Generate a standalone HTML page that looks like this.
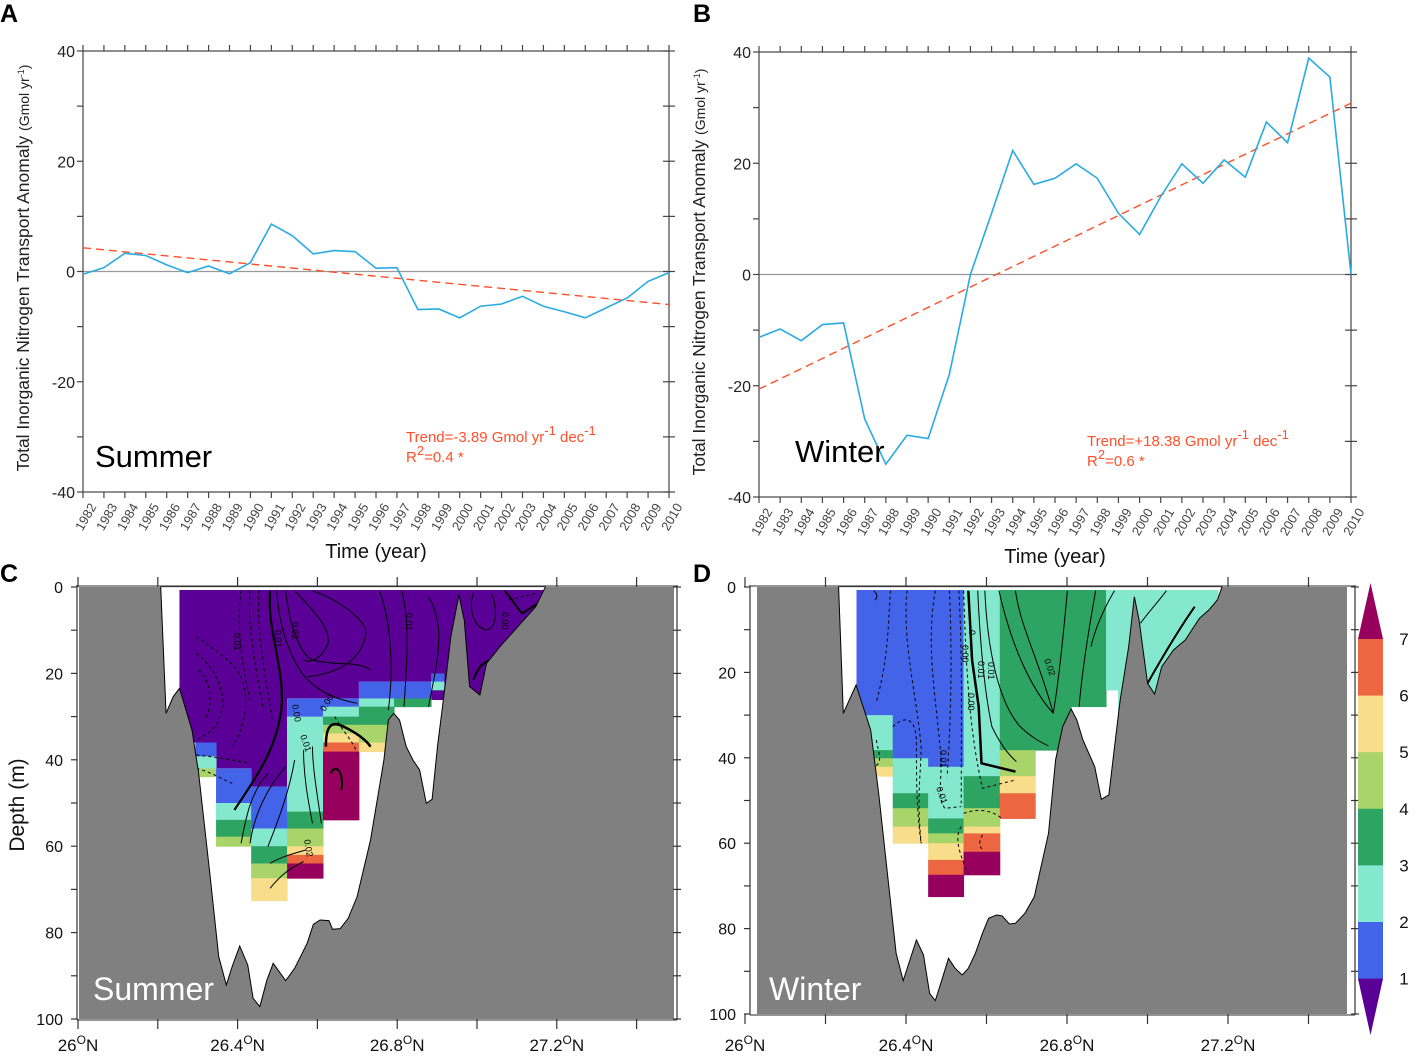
<!DOCTYPE html>
<html><head><meta charset="utf-8"><style>
html,body{margin:0;padding:0;background:#fff;}
svg{display:block;font-family:"Liberation Sans","DejaVu Sans",sans-serif;}
</style></head><body>
<svg id="fig" width="1424" height="1058" viewBox="0 0 1424 1058" xmlns="http://www.w3.org/2000/svg"></svg>
<script>
const years=[1982,1983,1984,1985,1986,1987,1988,1989,1990,1991,1992,1993,1994,1995,1996,1997,1998,1999,2000,2001,2002,2003,2004,2005,2006,2007,2008,2009,2010];
const summerValues=[-0.5,0.7,3.3,2.9,1.2,-0.2,1.0,-0.4,1.6,8.6,6.5,3.2,3.8,3.6,0.6,0.7,-6.9,-6.8,-8.4,-6.3,-5.9,-4.5,-6.3,-7.3,-8.4,-6.6,-4.8,-1.8,-0.2];
const winterValues=[-11.3,-9.8,-11.9,-9.0,-8.7,-26,-34.1,-28.9,-29.5,-18,0,11,22.3,16.2,17.3,19.9,17.3,11,7.2,14,19.9,16.4,20.6,17.5,27.4,23.7,38.9,35.5,0];
const summerTrend=[4.3,-6.0];
const winterTrend=[-20.6,30.8];
const yTicks=[40,20,0,-20,-40];
const depthTicks=[0,20,40,60,80,100];
const latTicks=[26.0,26.4,26.8,27.2];
const cbLevels=[7,6,5,4,3,2,1];
// heatmap cells: [lat0, lat1, depth0, depth1, level]
const cellsC=[
[26.294,26.346,36,39.2,1],[26.294,26.346,39.2,42,2],[26.294,26.346,42,43.9,4],
[26.346,26.434,42,50,1],[26.346,26.434,50,53.9,2],[26.346,26.434,53.9,57.8,3],[26.346,26.434,57.8,60,4],
[26.434,26.524,46.2,55.9,1],[26.434,26.524,55.9,60,2],[26.434,26.524,60,64,3],[26.434,26.524,64,67.4,4],[26.434,26.524,67.4,72.6,5],
[26.524,26.614,25.8,30,1],[26.524,26.614,30,52,2],[26.524,26.614,52,55.9,3],[26.524,26.614,55.9,60,4],[26.524,26.614,60,62,5],[26.524,26.614,62,64,6],[26.524,26.614,64,67.4,7],
[26.614,26.704,25.8,27.7,1],[26.614,26.704,27.7,30,2],[26.614,26.704,30,31.9,3],[26.614,26.704,31.9,33.9,4],[26.614,26.704,33.9,36,5],[26.614,26.704,36,38.1,6],[26.614,26.704,38.1,53.9,7],
[26.704,26.792,21.9,25.8,1],[26.704,26.792,25.8,27.7,2],[26.704,26.792,27.7,31.9,3],[26.704,26.792,31.9,36,4],[26.704,26.792,36,38.1,5],
[26.792,26.885,21.9,25.8,1],[26.792,26.885,25.8,27.7,3],
[26.885,26.917,20,21.9,1],[26.885,26.917,21.9,23.8,2]
];
const cellsD=[
[26.277,26.303,0.7,30,1],
[26.303,26.367,0.7,30,1],[26.303,26.367,30,38.2,2],[26.303,26.367,38.2,40.1,3],[26.303,26.367,40.1,42.1,4],[26.303,26.367,42.1,44.3,5],
[26.367,26.455,0.7,40.1,1],[26.367,26.455,40.1,48.3,2],[26.367,26.455,48.3,51.8,3],[26.367,26.455,51.8,56.1,4],[26.367,26.455,56.1,60,5],
[26.455,26.543,0.7,42.1,1],[26.455,26.543,42.1,54.2,2],[26.455,26.543,54.2,57.7,3],[26.455,26.543,57.7,60,4],[26.455,26.543,60,63.9,5],[26.455,26.543,63.9,67.4,6],[26.455,26.543,67.4,72.5,7],
[26.543,26.633,0.7,44.3,2],[26.543,26.633,44.3,51.8,3],[26.543,26.633,51.8,56.1,4],[26.543,26.633,56.1,57.7,5],[26.543,26.633,57.7,62,6],[26.543,26.633,62,67.4,7],
[26.633,26.721,0.7,38.2,3],[26.633,26.721,38.2,44.3,4],[26.633,26.721,44.3,48.3,5],[26.633,26.721,48.3,54.2,6],
[26.721,26.810,0.7,38.2,3],
[26.810,26.897,0.7,28,3],
[26.897,26.927,0.7,24.1,2],
[26.927,27.175,0.7,30,2]
];
const colors=["#5B0096","#4363E8","#84E8CF","#2EA463","#A8D46A","#F8DD8A","#EC6642","#98005E"];

const NS="http://www.w3.org/2000/svg";
const svg=document.getElementById('fig');
function mk(tag,attrs,parent,text){const e=document.createElementNS(NS,tag);for(const k in attrs)e.setAttribute(k,attrs[k]);if(text!==undefined)e.textContent=text;(parent||svg).appendChild(e);return e;}

// ---------- line panels ----------
function linePanel(cfg){
  const g=mk('g',{});
  
  
  const x=i=>cfg.x0+i*(cfg.x1-cfg.x0)/(years.length-1);
  const y=v=>cfg.yZero - v*(cfg.y1-cfg.y0)/80;
  const z=mk('line',{x1:cfg.x0,x2:cfg.x1,y1:y(0),y2:y(0),stroke:'#999','stroke-width':1.2},g);
  
  
  const f=mk('rect',{x:cfg.x0,y:cfg.y0,width:cfg.x1-cfg.x0,height:cfg.y1-cfg.y0,fill:'none',stroke:'#444','stroke-width':1.2},g);
  
  
  years.forEach((yr,i)=>{
    mk('line',{x1:x(i),x2:x(i),y1:cfg.y0,y2:cfg.y0-6,stroke:'#444','stroke-width':1.2},g);
    mk('line',{x1:x(i),x2:x(i),y1:cfg.y1,y2:cfg.y1+6,stroke:'#444','stroke-width':1.2},g);
    const t=mk('text',{x:x(i)+6,y:cfg.y1+10,'font-size':13,fill:'#444','text-anchor':'end',transform:`rotate(-60 ${x(i)+6} ${cfg.y1+10})`,dy:'0.7em'},g,String(yr));
    
    
  });
  for(let v=-40;v<=40;v+=10){
    mk('line',{x1:cfg.x0-6,x2:cfg.x0,y1:y(v),y2:y(v),stroke:'#444','stroke-width':1.2},g);
    mk('line',{x1:cfg.x1-6,x2:cfg.x1+6,y1:y(v),y2:y(v),stroke:'#444','stroke-width':1.2},g);
  }
  yTicks.forEach(v=>{
    const t=mk('text',{x:cfg.x0-8,y:y(v)+6,'font-size':16,fill:'#222','text-anchor':'end'},g,String(v));
    
    
  });
  const tr=mk('line',{x1:x(0),x2:x(years.length-1),y1:y(cfg.trend[0]),y2:y(cfg.trend[1]),stroke:'#FF4F2B','stroke-width':1.4,'stroke-dasharray':'8,5'},g);
  
  
  const pts=cfg.values.map((v,i)=>x(i)+','+y(v)).join(' ');
  const pl=mk('polyline',{points:pts,fill:'none',stroke:'#29ABE2','stroke-width':1.6},g);
  
  
  const st=mk('text',{x:cfg.seasonX,y:cfg.seasonY,'font-size':31,fill:'#000'},g,cfg.season);
  
  
  const t1=mk('text',{x:cfg.trX,y:cfg.trY,'font-size':15,fill:'#FF4F2B'},g);
  
  
  t1.innerHTML=cfg.trText+' Gmol yr<tspan dy="-7" font-size="13">-1</tspan><tspan dy="7"> dec</tspan><tspan dy="-7" font-size="13">-1</tspan>';
  const t2=mk('text',{x:cfg.trX,y:cfg.trY+20,'font-size':15,fill:'#FF4F2B'},g);
  
  
  t2.innerHTML='R<tspan dy="-7" font-size="13">2</tspan><tspan dy="7">='+cfg.r2+' *</tspan>';
  const xt=mk('text',{x:(cfg.x0+cfg.x1)/2,y:cfg.xTitleY,'font-size':20,fill:'#111','text-anchor':'middle'},g,'Time (year)');
  
  
  const yt=mk('text',{x:0,y:0,'font-size':17.5,fill:'#222','text-anchor':'middle',transform:`translate(${cfg.yTitleX},${cfg.yTitleY}) rotate(-90)`},g);
  
  
  yt.innerHTML='Total Inorganic Nitrogen Transport Anomaly <tspan font-size="14">(Gmol yr<tspan dy="-5" font-size="9">-1</tspan><tspan dy="5">)</tspan></tspan>';
  const pl2=mk('text',{x:cfg.letterX,y:22,'font-size':25,'font-weight':'bold',fill:'#000'},g,cfg.letter);
  
  
}
linePanel({name:'panel-a-summer-chart',x0:83,x1:669,y0:51,y1:492,yZero:271.5,values:summerValues,trend:summerTrend,season:'Summer',seasonX:95,seasonY:467,trX:406,trY:442,trText:'Trend=-3.89',r2:'0.4',xTitleY:558,yTitleX:29,yTitleY:268,letter:'A',letterX:0});
linePanel({name:'panel-b-winter-chart',x0:759,x1:1351,y0:52,y1:497,yZero:274.5,values:winterValues,trend:winterTrend,season:'Winter',seasonX:795,seasonY:462,trX:1087,trY:446,trText:'Trend=+18.38',r2:'0.6',xTitleY:563,yTitleX:705,yTitleY:272,letter:'B',letterX:693});

// ---------- section panels ----------
function section(cfg){
  const g=mk('g',{});
  
  
  const X=lat=>cfg.lx0+(lat-26)*cfg.lpd;
  const Y=d=>cfg.dy0+d*cfg.dpm;
  mk('rect',{x:cfg.gx0,y:cfg.gy0,width:cfg.gx1-cfg.gx0,height:cfg.gy1-cfg.gy0,fill:'#fff'},g);
  if(cfg.purple){
    const p=mk('path',{d:cfg.purple,fill:colors[0],transform:cfg.tf},g);
    
    
  }
  cfg.cells.forEach(c=>{
    const r=mk('rect',{x:X(c[0]),y:Y(c[2]),width:X(c[1])-X(c[0])+0.5,height:Y(c[3])-Y(c[2])+0.5,fill:colors[c[4]]},g);
    
    
  });
  const cg=mk('g',{transform:cfg.tf},g);
  
  
  cfg.contours.forEach(c=>{
    mk('path',{d:c[0],fill:'none',stroke:'#000','stroke-width':c[1],'stroke-dasharray':c[2]||'none','vector-effect':'non-scaling-stroke'},cg);
  });
  cfg.clabels.forEach(l=>{
    mk('text',{x:0,y:0,'font-size':9,fill:'#000',transform:`translate(${l[0]},${l[1]}) rotate(${l[3]})`},g,l[2]);
  });
  const b=mk('path',{d:`M${cfg.gx0},${cfg.gy0}H${cfg.gx1}V${cfg.gy1}H${cfg.gx0}Z `,fill:'#808080','fill-rule':'evenodd'},g);
  
  
  mk('path',{d:cfg.water,fill:'none',stroke:'#000','stroke-width':1,'vector-effect':'non-scaling-stroke',transform:cfg.tf},g);
  const mid='m'+cfg.name;
  const m=mk('mask',{id:mid},g);
  mk('rect',{x:0,y:0,width:1424,height:1058,fill:'#fff'},m);
  mk('path',{d:cfg.water,fill:'#000',transform:cfg.tf},m);
  b.setAttribute('mask','url(#'+mid+')');
  mk('line',{x1:cfg.fx0,x2:cfg.fx0,y1:cfg.gy0-2,y2:cfg.gy1+1,stroke:'#333','stroke-width':1.2},g);
  mk('line',{x1:cfg.fx1,x2:cfg.fx1,y1:cfg.gy0-2,y2:cfg.gy1+1,stroke:'#333','stroke-width':1.2},g);
  mk('line',{x1:cfg.fx0,x2:cfg.fx1,y1:cfg.gy0-1,y2:cfg.gy0-1,stroke:'#555','stroke-width':1.2},g);
  mk('line',{x1:cfg.fx0,x2:cfg.fx1,y1:cfg.gy1+1,y2:cfg.gy1+1,stroke:'#555','stroke-width':1.2},g);
  for(let k=0;k<8;k++){
    const tx=X(26+k*0.2);
    mk('line',{x1:tx,x2:tx,y1:cfg.gy0-10,y2:cfg.gy0,stroke:'#333','stroke-width':1.2},g);
    mk('line',{x1:tx,x2:tx,y1:cfg.gy1,y2:cfg.gy1+10,stroke:'#333','stroke-width':1.2},g);
  }
  for(let d=0;d<=100;d+=10){
    mk('line',{x1:cfg.fx0-6,x2:cfg.fx0,y1:Y(d),y2:Y(d),stroke:'#333','stroke-width':1.2},g);
    mk('line',{x1:cfg.fx1-4,x2:cfg.fx1+4,y1:Y(d),y2:Y(d),stroke:'#333','stroke-width':1.2},g);
  }
  depthTicks.forEach(d=>{
    const t=mk('text',{x:cfg.fx0-14,y:Y(d)+6,'font-size':16,fill:'#111','text-anchor':'end'},g,String(d));
    
    
  });
  latTicks.forEach(l=>{
    const t=mk('text',{x:X(l)+cfg.latOff,y:1051,'font-size':17,fill:'#111','text-anchor':'middle'},g);
    
    
    t.innerHTML=l.toFixed(l===26?0:1)+'<tspan dy="-7" font-size="12">O</tspan><tspan dy="7">N</tspan>';
  });
  const s=mk('text',{x:cfg.seasonX,y:1000,'font-size':32,fill:'#fff'},g,cfg.season);
  
  
  const L=mk('text',{x:cfg.letterX,y:582,'font-size':25,'font-weight':'bold',fill:'#000'},g,cfg.letter);
  
  
}
const tfC='translate(0,560) scale(0.4464,0.3333)';
const tfD='translate(690,560) scale(0.4717,0.3333)';
section({name:'panel-c-summer-section',lx0:78,lpd:399,dy0:587,dpm:4.32,gx0:79,gx1:674,gy0:587,gy1:1019,fx0:77,fx1:677,tf:tfC,latOff:0,
 cells:cellsC,season:'Summer',seasonX:93,letter:'C',letterX:0,
 purple:'M402,90H1222V420H965V365H883V365H804V415H643V680H563V625H484V548H402Z',
 water:'M360,80L372,460L388,410L402,385L430,510L445,640L470,940L490,1190L507,1275L520,1220L537,1158L555,1215L567,1315L582,1340L598,1260L612,1210L640,1262L660,1225L688,1150L702,1093L717,1080L737,1082L745,1108L762,1106L780,1075L800,1010L830,840L860,600L870,480L882,460L895,480L910,560L925,600L940,630L955,730L968,718L980,560L995,400L1010,230L1028,105L1040,180L1052,380L1075,405L1090,310L1120,260L1140,230L1160,200L1180,170L1200,140L1222,80Z',
 contours:[
  ['M605,92C598,220 640,330 630,450C620,560 580,640 525,750',2.2],
  ['M620,92C625,220 660,320 690,360C720,400 760,420 800,430',1],
  ['M640,92C650,220 680,290 700,300C760,320 800,300 830,330',1],
  ['M660,92C700,150 740,200 735,250C720,300 690,310 680,300',1],
  ['M700,92C760,120 820,180 820,220C810,300 760,340 690,350',1],
  ['M850,92C880,200 880,350 870,450',1],
  ['M900,92C920,200 910,330 905,440',1],
  ['M960,110C1000,200 980,300 960,440',1],
  ['M1060,100C1050,150 1060,200 1090,210C1120,200 1110,120 1100,100',1],
  ['M1130,92C1150,120 1160,150 1170,160L1205,130',2],
  ['M1060,360C1070,330 1075,310 1100,300L1130,260',2],
  ['M730,560C730,500 740,480 770,500C800,520 820,540 830,560',2.5],
  ['M740,640C760,600 770,660 765,690',2],
  ['M700,560C700,620 710,700 720,790',1],
  ['M680,570C680,650 690,720 700,790',1],
  ['M660,600C650,680 630,760 600,860',1],
  ['M540,850C550,780 560,700 600,640',1],
  ['M560,850C570,760 600,680 640,620',1],
  ['M605,910C630,890 660,880 685,870',1],
  ['M605,985C620,960 640,930 680,905',1],
  ['M540,92C530,200 540,300 560,420',1,'3,3'],['M560,92C555,200 570,300 590,450',1,'3,3'],
  ['M580,92C575,200 590,320 610,480',1,'3,3'],['M440,230C470,260 520,300 540,350C560,420 550,500 520,560',1,'3,3'],
  ['M440,280C480,320 500,380 500,440C490,500 470,520 440,540',1,'3,3'],
  ['M445,330C470,360 480,420 460,480',1,'3,3'],['M440,585C480,590 520,600 560,610',1,'3,3'],
  ['M440,625C480,640 500,660 520,670',1,'3,3'],['M1140,120L1200,100',1,'3,3'],
  ['M750,470C770,520 790,540 800,580',1,'3,3']
 ],
 clabels:[[234,633,'0.01',90],[275,630,'0.01',90],[292,622,'0.02',90],[406,613,'0.01',90],[502,612,'0.00',90],[292,705,'0.00',80],[300,736,'0.01',70],[325,712,'0.00',-60],[304,840,'0.02',80]]
});
section({name:'panel-d-winter-section',lx0:745,lpd:402.5,dy0:587,dpm:4.27,gx0:757,gx1:1347,gy0:587,gy1:1014,fx0:750,fx1:1355,tf:tfD,latOff:0,
 cells:cellsD,season:'Winter',seasonX:769,letter:'D',letterX:693,
 purple:null,
 water:'M315,80L325,460L352,375L383,510L400,700L437,1180L452,1262L480,1140L495,1185L508,1300L520,1322L535,1255L548,1195L562,1225L577,1245L590,1225L605,1180L620,1120L633,1075L650,1065L662,1068L677,1092L690,1090L710,1060L730,1010L760,820L775,600L790,500L808,447L820,480L833,540L858,620L872,718L888,705L900,560L912,420L930,260L942,110L952,180L970,370L985,402L1000,320L1025,270L1050,240L1080,175L1100,150L1118,120L1128,80Z',
 contours:[
  ['M590,92L598,300L612,440L618,610L690,635',2.5],
  ['M610,92C615,250 625,400 640,500C660,560 680,590 692,605',1],
  ['M625,92C630,250 650,420 700,500C730,540 750,550 760,558',1],
  ['M655,92C680,250 720,380 770,460',1],
  ['M690,92C700,200 740,300 770,460',1],
  ['M800,92C790,250 780,380 770,460',1],
  ['M860,92C840,250 830,350 825,440',1],
  ['M900,92C880,140 860,200 850,260',1],
  ['M1010,92C990,130 970,160 955,190',1],
  ['M1070,140C1040,200 1010,270 970,370',2],
  ['M390,92C395,100 400,110 392,120',1],
  ['M425,92C420,200 420,300 395,425',1,'3,3'],
  ['M460,92C450,250 480,400 490,560C490,640 480,700 490,850',1,'3,3'],
  ['M520,92C500,250 520,400 530,560C540,620 520,700 540,745L575,740',1,'3,3'],
  ['M550,92C555,250 555,450 545,650',1,'3,3'],
  ['M570,92C578,300 575,500 575,730',1,'3,3'],
  ['M580,92C585,300 590,500 620,685L690,660',1,'3,3'],
  ['M575,800C560,830 570,880 590,940',1,'3,3'],
  ['M580,760C620,740 650,760 660,775',1,'3,3'],
  ['M430,500C460,460 480,480 480,550C480,650 480,750 490,850',1,'3,3'],
  ['M395,540C400,580 410,610 390,620',1,'3,3'],
  ['M620,825C610,850 615,860 620,870',1,'3,3']
 ],
 clabels:[[969,630,'0',90],[962,645,'0.00',90],[978,661,'0.01',90],[988,662,'0.01',90],[1044,660,'0.02',70],[968,693,'0.00',90],[940,750,'0.01',90],[936,788,'0.01',70]]
});
const cb=mk('g',{});


const cbX0=1358,cbX1=1383,cbTop=639,cbStep=56.6;
mk('polygon',{points:`${cbX0},${cbTop} ${cbX1},${cbTop} ${(cbX0+cbX1)/2},583`,fill:colors[7]},cb);
for(let k=0;k<6;k++){
  const r=mk('rect',{x:cbX0,y:cbTop+k*cbStep,width:cbX1-cbX0,height:cbStep+0.5,fill:colors[6-k]},cb);
  
  
}
mk('polygon',{points:`${cbX0},${cbTop+6*cbStep} ${cbX1},${cbTop+6*cbStep} ${(cbX0+cbX1)/2},1035`,fill:colors[0]},cb);
cbLevels.forEach((v,k)=>{
  const t=mk('text',{x:1404,y:cbTop+k*cbStep+6,'font-size':17,fill:'#111','text-anchor':'middle'},cb,String(v));
  
  
});
const dl=mk('text',{x:0,y:0,'font-size':21,fill:'#111','text-anchor':'middle',transform:'translate(24,805) rotate(-90)'},svg,'Depth (m)');


</script>
</body></html>
